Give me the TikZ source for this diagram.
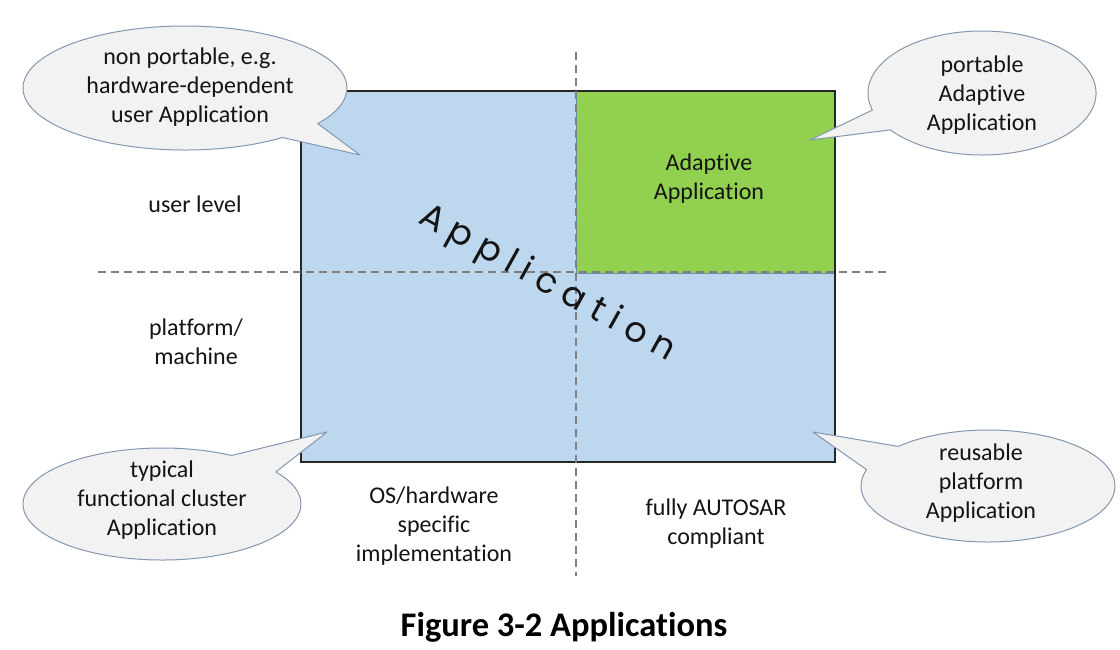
\documentclass[tikz,border=0pt]{standalone}
\usepackage{fontspec}
\setmainfont{Carlito}[Ligatures=NoCommon]
\newfontfamily\diagfont[LetterSpace=25]{Poppins}
\usetikzlibrary{calc}
\definecolor{appblue}{HTML}{BDD7EE}
\definecolor{appgreen}{HTML}{92D050}
\definecolor{callfill}{HTML}{F2F2F2}
\definecolor{callline}{HTML}{8497B0}
\definecolor{dashgray}{HTML}{7F7F7F}
\definecolor{greenedge}{HTML}{6A8CB0}
\begin{document}
\begin{tikzpicture}[x=1pt,y=-1pt,
  lbl/.style={font=\fontsize{24}{29}\selectfont, align=center, inner sep=0pt, text=black!92},
  guide/.style={draw=dashgray, line width=1.8pt, dash pattern=on 8pt off 5pt},
  bubble/.style={fill=callfill, draw=callline, line width=1pt, line join=round},
  area/.style={inner sep=0pt, outer sep=0pt, anchor=north west}]
\useasboundingbox (0,0) rectangle (1120,649);
\fill[white] (0,0) rectangle (1120,649);
% areas
\node[area, fill=appblue, minimum width=534pt, minimum height=371pt] (app) at (301,91) {};
\node[area, fill=appgreen, draw=greenedge, line width=0.8pt, minimum width=259pt, minimum height=182pt] (adaptive) at (576,91) {};
\draw[black!85, line width=1.5pt] (app.north west) rectangle (app.south east);
% guides
\coordinate (hl) at (98,272);
\coordinate (hr) at (888,272);
\coordinate (vt) at (576,52);
\coordinate (vb) at (576,576);
\draw[guide] (hl) -- (hr);
\draw[guide] (vt) -- (vb);
% labels
\node[lbl] (adtxt) at (709,179) {Adaptive\\Application};
\node[lbl] (user) at (195,204) {user level};
\node[lbl] (plat) at (196,342) {platform/\\machine};
\node[lbl] (os) at (434,526) {OS/hardware\\specific\\implementation};
\node[lbl] (full) at (716,524) {fully AUTOSAR\\compliant};
\node[rotate=-29, inner sep=0pt, text=black!92, font=\diagfont\fontsize{35}{40}\selectfont] (diag) at (547,284) {Application};
% callouts
\coordinate (c1) at (185,88);
\coordinate (t1) at (360,155);
\draw[bubble] ($(c1)+(53:162 and 62)$) arc[start angle=53, end angle=395, x radius=162, y radius=62] -- (t1) -- cycle;
\node[lbl] (b1) at (190,87) {non portable, e.g.\\hardware-dependent\\user Application};
\coordinate (c2) at (982,93);
\coordinate (t2) at (810,140);
\draw[bubble] ($(c2)+(164:114 and 62)$) arc[start angle=164, end angle=503.5, x radius=114, y radius=62] -- (t2) -- cycle;
\node[lbl] (b2) at (982,95) {portable\\Adaptive\\Application};
\coordinate (c3) at (162,504);
\coordinate (t3) at (327,432);
\draw[bubble] ($(c3)+(-35:139 and 56)$) arc[start angle=-35, end angle=300, x radius=139, y radius=56] -- (t3) -- cycle;
\node[lbl] (b3) at (162,500) {typical\\functional cluster\\Application};
\coordinate (c4) at (988,486);
\coordinate (t4) at (813,432);
\draw[bubble] ($(c4)+(225:127 and 56)$) arc[start angle=225, end angle=557, x radius=127, y radius=56] -- (t4) -- cycle;
\node[lbl] (b4) at (981,483) {reusable\\platform\\Application};
% caption
\node[inner sep=0pt, font=\bfseries\fontsize{34.5}{40}\selectfont] (cap) at (564,627) {Figure 3-2 Applications};
\end{tikzpicture}
\end{document}
